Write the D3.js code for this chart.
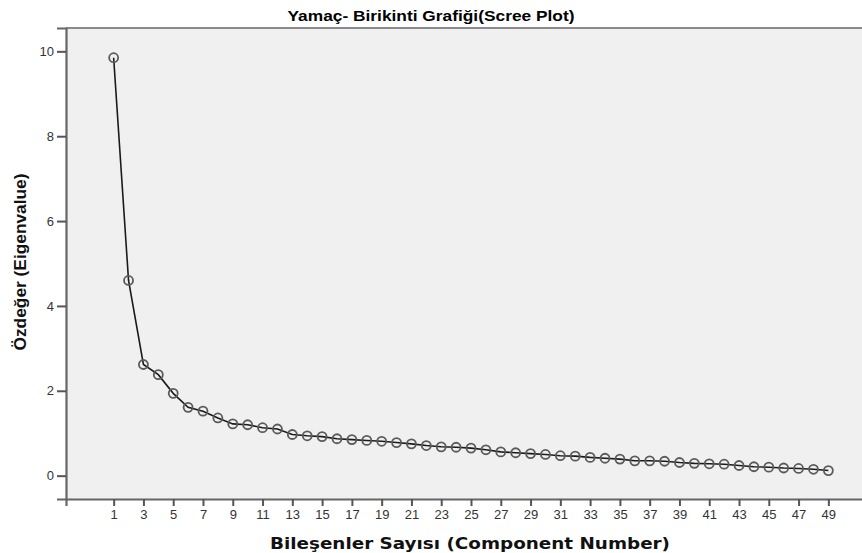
<!DOCTYPE html>
<html>
<head>
<meta charset="utf-8">
<script src="https://cdn.jsdelivr.net/npm/d3@7"></script>
<style>
  body { margin: 0; background: #fff; }
  svg text { font-family: "Liberation Sans", Arial, sans-serif; }
</style>
</head>
<body>
<svg id="chart" width="862" height="553"></svg>
<script>
// scree plot values
const components = d3.range(1, 50)
const eigenvalues = [
  9.85, 4.6, 2.62, 2.38, 1.94, 1.61, 1.52, 1.36, 1.22, 1.2,
  1.13, 1.1, 0.97, 0.94, 0.92, 0.87, 0.85, 0.83, 0.81, 0.78,
  0.75, 0.71, 0.68, 0.67, 0.65, 0.61, 0.56, 0.54, 0.52, 0.5,
  0.47, 0.46, 0.43, 0.41, 0.39, 0.35, 0.35, 0.34, 0.31, 0.29,
  0.28, 0.27, 0.24, 0.21, 0.2, 0.18, 0.17, 0.15, 0.12
]
const xTicks = d3.range(1, 50, 2)
const yTicks = [0, 2, 4, 6, 8, 10]

const titleText = 'Yamaç- Birikinti Grafiği(Scree Plot)'
const xTitle = 'Bileşenler Sayısı (Component Number)'
const yTitle = 'Özdeğer (Eigenvalue)'

const svg = d3.select('#chart')
const plotLeft = 66, plotTop = 28, plotRight = 876, plotBottom = 499

const x = d3.scaleLinear().domain([-2.2, 52.2]).range([plotLeft, plotRight])
const y = d3.scaleLinear().domain([-0.55, 10.55]).range([plotBottom, plotTop])

// plot background
svg.append('rect')
  .attr('x', plotLeft).attr('y', plotTop)
  .attr('width', plotRight - plotLeft).attr('height', plotBottom - plotTop)
  .style('fill', '#f0f0f0')

svg.append('line')
  .attr('x1', plotLeft).attr('x2', plotRight)
  .attr('y1', plotTop).attr('y2', plotTop)
  .style('stroke', '#8a8a8a').style('stroke-width', 2)

// axes
const xAxis = svg.append('g')
  .attr('transform', 'translate(0,' + plotBottom + ')')
  .call(d3.axisBottom(x).tickValues(xTicks).tickSize(7).tickPadding(4))
const yAxis = svg.append('g')
  .attr('transform', 'translate(' + plotLeft + ',0)')
  .call(d3.axisLeft(y).tickValues(yTicks).tickSize(9).tickPadding(3))

;[xAxis, yAxis].forEach(function(g) {
  g.select('.domain').style('stroke', '#666').style('stroke-width', 2.2)
  g.selectAll('.tick line').style('stroke', '#555').style('stroke-width', 2)
  g.selectAll('.tick text').style('font-size', '13px').style('fill', '#333')
})

// line + markers
const line = d3.line()
  .x(function(d, i) { return x(components[i]) })
  .y(function(d) { return y(d) })

svg.append('path')
  .datum(eigenvalues)
  .attr('d', line)
  .style('fill', 'none')
  .style('stroke', '#1a1a1a')
  .style('stroke-width', 1.6)

svg.selectAll('circle.pt')
  .data(eigenvalues)
  .enter()
  .append('circle')
  .attr('class', 'pt')
  .attr('cx', function(d, i) { return x(components[i]) })
  .attr('cy', function(d) { return y(d) })
  .attr('r', 4.5)
  .style('fill', 'none')
  .style('stroke', '#5a5a5a')
  .style('stroke-width', 1.8)

// texts
svg.append('text')
  .attr('x', 431).attr('y', 21)
  .attr('text-anchor', 'middle')
  .attr('textLength', 287).attr('lengthAdjust', 'spacingAndGlyphs')
  .style('font-size', '15px').style('font-weight', 'bold')
  .text(titleText)

svg.append('text')
  .attr('x', 470).attr('y', 549)
  .attr('text-anchor', 'middle')
  .attr('textLength', 400).attr('lengthAdjust', 'spacingAndGlyphs')
  .style('font-family', '"DejaVu Sans", sans-serif')
  .style('font-size', '16px').style('font-weight', 'bold').style('fill', '#111')
  .text(xTitle)

svg.append('text')
  .attr('transform', 'translate(26,262) rotate(-90)')
  .attr('text-anchor', 'middle')
  .attr('textLength', 177).attr('lengthAdjust', 'spacingAndGlyphs')
  .style('font-size', '16px').style('font-weight', 'bold').style('fill', '#111')
  .text(yTitle)
</script>
</body>
</html>
